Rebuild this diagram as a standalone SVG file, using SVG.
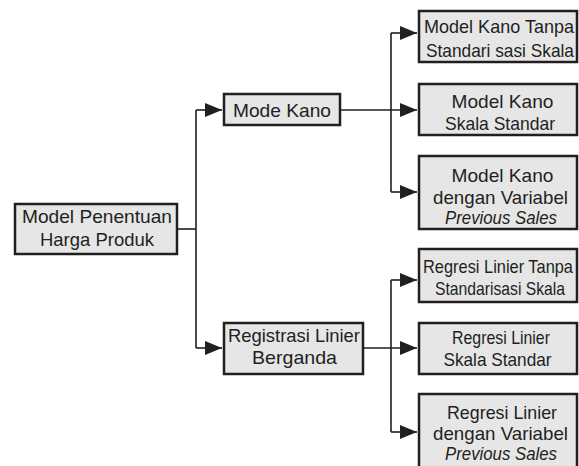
<svg xmlns="http://www.w3.org/2000/svg" width="579" height="466" viewBox="0 0 579 466">
<style>
.box{fill:#e6e6e7;stroke:#231f20;stroke-width:2.5}
.t{font-family:"Liberation Sans",Arial,sans-serif;font-size:19px;fill:#231f20;text-anchor:middle}
.i{font-style:italic}
.c{fill:none;stroke:#231f20;stroke-width:1.6}
</style>
<defs>
<marker id="ah" markerUnits="userSpaceOnUse" markerWidth="18" markerHeight="14" refX="17" refY="7" orient="auto">
<path d="M0,0 L17,7 L0,14 Z" fill="#231f20"/>
</marker>
</defs>
<rect width="579" height="466" fill="#fff"/>
<g id="connectors">
<path class="c" d="M178,229 H196"/>
<path class="c" d="M196,110 V348"/>
<path class="c" d="M196,110 H222" marker-end="url(#ah)"/>
<path class="c" d="M196,348 H222" marker-end="url(#ah)"/>
<path class="c" d="M341,110 H417" marker-end="url(#ah)"/>
<path class="c" d="M391,33 V192"/>
<path class="c" d="M391,33 H417" marker-end="url(#ah)"/>
<path class="c" d="M391,192 H417" marker-end="url(#ah)"/>
<path class="c" d="M364,348 H417" marker-end="url(#ah)"/>
<path class="c" d="M391,280 V432"/>
<path class="c" d="M391,280 H417" marker-end="url(#ah)"/>
<path class="c" d="M391,432 H417" marker-end="url(#ah)"/>
</g>
<g id="root">
<rect class="box" x="15" y="204" width="162" height="50"/>
<text class="t" x="97" y="223" textLength="150" lengthAdjust="spacingAndGlyphs">Model Penentuan</text>
<text class="t" x="97" y="245.5" textLength="114" lengthAdjust="spacingAndGlyphs">Harga Produk</text>
</g>
<g id="mode-kano">
<rect class="box" x="224" y="94" width="116" height="31"/>
<text class="t" x="282" y="116.5" textLength="98" lengthAdjust="spacingAndGlyphs">Mode Kano</text>
</g>
<g id="registrasi">
<rect class="box" x="224" y="323" width="139" height="51"/>
<text class="t" x="294" y="341.5" textLength="132" lengthAdjust="spacingAndGlyphs">Registrasi Linier</text>
<text class="t" x="294.5" y="363.5" textLength="85" lengthAdjust="spacingAndGlyphs">Berganda</text>
</g>
<g id="kano-1">
<rect class="box" x="419" y="11" width="158" height="51"/>
<text class="t" x="499" y="33" textLength="150" lengthAdjust="spacingAndGlyphs">Model Kano Tanpa</text>
<text class="t" x="500" y="56.5" textLength="148" lengthAdjust="spacingAndGlyphs">Standari sasi Skala</text>
</g>
<g id="kano-2">
<rect class="box" x="419" y="84" width="158" height="51"/>
<text class="t" x="502.5" y="107.5" textLength="102" lengthAdjust="spacingAndGlyphs">Model Kano</text>
<text class="t" x="500" y="130" textLength="110" lengthAdjust="spacingAndGlyphs">Skala Standar</text>
</g>
<g id="kano-3">
<rect class="box" x="419" y="156" width="158" height="73"/>
<text class="t" x="502.5" y="181.5" textLength="102" lengthAdjust="spacingAndGlyphs">Model Kano</text>
<text class="t" x="500.5" y="203.5" textLength="135" lengthAdjust="spacingAndGlyphs">dengan Variabel</text>
<text class="t i" x="501" y="223.5" textLength="112" lengthAdjust="spacingAndGlyphs">Previous Sales</text>
</g>
<g id="reg-1">
<rect class="box" x="419" y="249" width="158" height="53"/>
<text class="t" x="498" y="272.5" textLength="150" lengthAdjust="spacingAndGlyphs">Regresi Linier Tanpa</text>
<text class="t" x="500" y="295" textLength="130" lengthAdjust="spacingAndGlyphs">Standarisasi Skala</text>
</g>
<g id="reg-2">
<rect class="box" x="419" y="323" width="158" height="51"/>
<text class="t" x="501" y="343.5" textLength="98" lengthAdjust="spacingAndGlyphs">Regresi Linier</text>
<text class="t" x="497.5" y="365.5" textLength="108" lengthAdjust="spacingAndGlyphs">Skala Standar</text>
</g>
<g id="reg-3">
<rect class="box" x="419" y="394" width="158" height="80"/>
<text class="t" x="502" y="418.5" textLength="110" lengthAdjust="spacingAndGlyphs">Regresi Linier</text>
<text class="t" x="500.5" y="439.5" textLength="135" lengthAdjust="spacingAndGlyphs">dengan Variabel</text>
<text class="t i" x="501" y="460" textLength="112" lengthAdjust="spacingAndGlyphs">Previous Sales</text>
</g>
</svg>
